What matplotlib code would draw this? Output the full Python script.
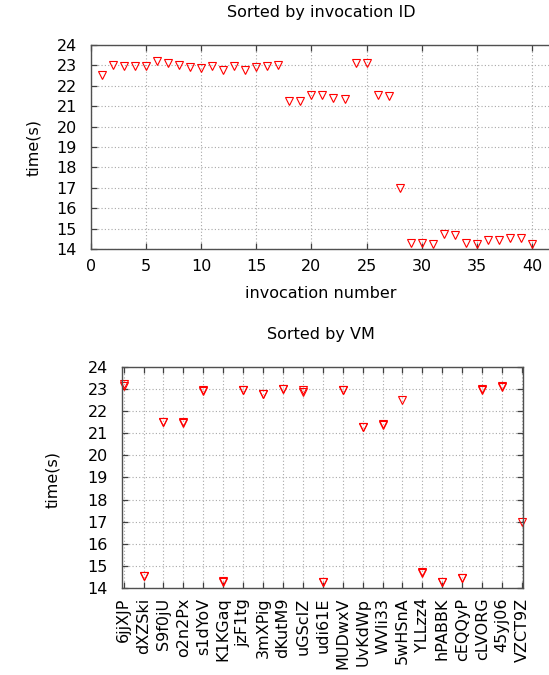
import matplotlib
matplotlib.use("Agg")
import matplotlib.pyplot as plt

invocation = list(range(1, 41))
times = [22.52, 23.02, 22.97, 22.97, 22.95, 23.21, 23.13, 23.02, 22.94, 22.89,
         22.97, 22.79, 22.97, 22.79, 22.92, 22.97, 23.02, 21.27, 21.27, 21.53,
         21.53, 21.40, 21.37, 23.13, 23.11, 21.53, 21.48, 16.97, 14.28, 14.28,
         14.26, 14.74, 14.70, 14.30, 14.25, 14.44, 14.44, 14.54, 14.54, 14.25]
vm_of_invocation = ["5wHSnA", "dKutM9", "jzF1tg", "MUDwxV", "s1dYoV", "6jjXJP", "6jjXJP", "dKutM9",
                    "uGScIZ", "uGScIZ", "cLVORG", "3mXPig", "jzF1tg", "3mXPig", "s1dYoV", "MUDwxV",
                    "cLVORG", "UvKdWp", "UvKdWp", "S9f0jU", "o2n2Px", "WVli33", "WVli33", "45yj06",
                    "45yj06", "S9f0jU", "o2n2Px", "VZCT9Z", "K1KGaq", "udi61E", "hPABBK", "YLLzz4",
                    "YLLzz4", "K1KGaq", "udi61E", "cEQQyP", "cEQQyP", "dXZSki", "dXZSki", "hPABBK"]
vm_order = ["6jjXJP", "dXZSki", "S9f0jU", "o2n2Px", "s1dYoV", "K1KGaq", "jzF1tg", "3mXPig",
            "dKutM9", "uGScIZ", "udi61E", "MUDwxV", "UvKdWp", "WVli33", "5wHSnA", "YLLzz4",
            "hPABBK", "cEQQyP", "cLVORG", "45yj06", "VZCT9Z"]
x_ticks = [0, 5, 10, 15, 20, 25, 30, 35, 40]
y_ticks = list(range(14, 25))

W, H = 549, 675
FS = 11.5


def px_box(left, top, right, bottom):
    return [left / W, 1 - bottom / H, (right - left) / W, (bottom - top) / H]


def style(ax):
    ax.set_ylim(14, 24)
    ax.set_yticks(y_ticks)
    ax.grid(True, linestyle=(0, (1, 2)), color="#a8a8a8", linewidth=0.8)
    ax.set_axisbelow(True)
    ax.tick_params(direction="in", top=True, right=True, length=4, width=0.9,
                   color="#404040", labelsize=FS, pad=7)
    ax.tick_params(axis="y", pad=10)
    for s in ax.spines.values():
        s.set_color("#505050")
        s.set_linewidth(1.0)


fig = plt.figure(figsize=(W / 100, H / 100), dpi=100)

# sorted by invocation (frame runs past the right edge like the original)
ax1 = fig.add_axes(px_box(91, 45, 587, 249))
style(ax1)
ax1.set_xlim(0, 45)
ax1.set_xticks(x_ticks)
ax1.plot(invocation, times, "v", mfc="none", mec="red", ms=6.2, mew=0.8, clip_on=False)
fig.text(321 / W, 1 - 13 / H, "Sorted by invocation ID", ha="center", va="center", fontsize=FS)
fig.text(321 / W, 1 - 293 / H, "invocation number", ha="center", va="center", fontsize=FS)
fig.text(34 / W, 1 - 147 / H, "time(s)", ha="center", va="center", rotation=90, fontsize=FS)

# sorted by VM
ax2 = fig.add_axes(px_box(122, 367, 523, 588))
style(ax2)
ax2.set_xlim(-0.08, 20.05)
ax2.set_xticks(range(len(vm_order)))
ax2.set_xticklabels(vm_order, rotation=90)
vm_x = [vm_order.index(v) for v in vm_of_invocation]
ax2.plot(vm_x, times, "v", mfc="none", mec="red", ms=6.2, mew=0.8, clip_on=False)
fig.text(321 / W, 1 - 334 / H, "Sorted by VM", ha="center", va="center", fontsize=FS)
fig.text(53 / W, 1 - 480 / H, "time(s)", ha="center", va="center", rotation=90, fontsize=FS)

fig.savefig("out.png", dpi=100)
